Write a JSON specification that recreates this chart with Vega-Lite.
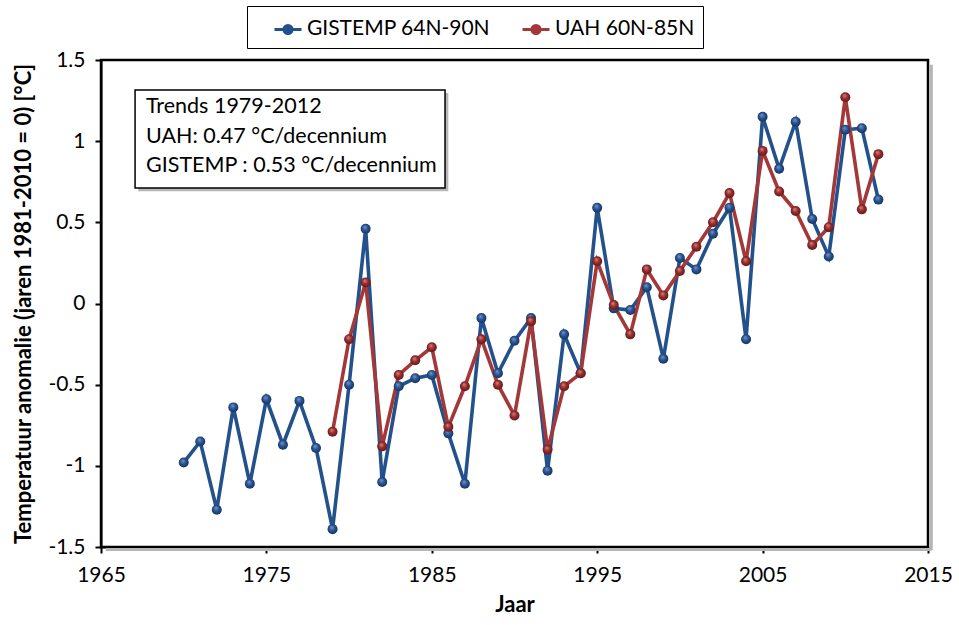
{
  "$schema": "https://vega.github.io/schema/vega-lite/v6.json",
  "width": 827,
  "height": 487,
  "autosize": {"type": "none"},
  "padding": {"left": 101, "top": 60, "right": 31, "bottom": 78},
  "background": "white",
  "config": {
    "font": "Lato",
    "view": {"stroke": "black", "strokeWidth": 2.5},
    "axis": {
      "domainColor": "black", "domainWidth": 2,
      "tickColor": "black", "tickWidth": 2, "tickSize": 6,
      "labelFont": "Lato", "labelFontSize": 21, "labelColor": "black",
      "titleFont": "Lato", "titleFontSize": 22, "titleFontWeight": "bold", "titleColor": "black",
      "grid": false
    }
  },
  "datasets": {
    "temps": [
      {"year": 1970, "series": "GISTEMP 64N-90N", "value": -0.98},
      {"year": 1971, "series": "GISTEMP 64N-90N", "value": -0.85},
      {"year": 1972, "series": "GISTEMP 64N-90N", "value": -1.27},
      {"year": 1973, "series": "GISTEMP 64N-90N", "value": -0.64},
      {"year": 1974, "series": "GISTEMP 64N-90N", "value": -1.11},
      {"year": 1975, "series": "GISTEMP 64N-90N", "value": -0.59},
      {"year": 1976, "series": "GISTEMP 64N-90N", "value": -0.87},
      {"year": 1977, "series": "GISTEMP 64N-90N", "value": -0.60},
      {"year": 1978, "series": "GISTEMP 64N-90N", "value": -0.89},
      {"year": 1979, "series": "GISTEMP 64N-90N", "value": -1.39},
      {"year": 1980, "series": "GISTEMP 64N-90N", "value": -0.50},
      {"year": 1981, "series": "GISTEMP 64N-90N", "value": 0.46},
      {"year": 1982, "series": "GISTEMP 64N-90N", "value": -1.10},
      {"year": 1983, "series": "GISTEMP 64N-90N", "value": -0.51},
      {"year": 1984, "series": "GISTEMP 64N-90N", "value": -0.46},
      {"year": 1985, "series": "GISTEMP 64N-90N", "value": -0.44},
      {"year": 1986, "series": "GISTEMP 64N-90N", "value": -0.80},
      {"year": 1987, "series": "GISTEMP 64N-90N", "value": -1.11},
      {"year": 1988, "series": "GISTEMP 64N-90N", "value": -0.09},
      {"year": 1989, "series": "GISTEMP 64N-90N", "value": -0.43},
      {"year": 1990, "series": "GISTEMP 64N-90N", "value": -0.23},
      {"year": 1991, "series": "GISTEMP 64N-90N", "value": -0.09},
      {"year": 1992, "series": "GISTEMP 64N-90N", "value": -1.03},
      {"year": 1993, "series": "GISTEMP 64N-90N", "value": -0.19},
      {"year": 1994, "series": "GISTEMP 64N-90N", "value": -0.43},
      {"year": 1995, "series": "GISTEMP 64N-90N", "value": 0.59},
      {"year": 1996, "series": "GISTEMP 64N-90N", "value": -0.03},
      {"year": 1997, "series": "GISTEMP 64N-90N", "value": -0.04},
      {"year": 1998, "series": "GISTEMP 64N-90N", "value": 0.10},
      {"year": 1999, "series": "GISTEMP 64N-90N", "value": -0.34},
      {"year": 2000, "series": "GISTEMP 64N-90N", "value": 0.28},
      {"year": 2001, "series": "GISTEMP 64N-90N", "value": 0.21},
      {"year": 2002, "series": "GISTEMP 64N-90N", "value": 0.43},
      {"year": 2003, "series": "GISTEMP 64N-90N", "value": 0.59},
      {"year": 2004, "series": "GISTEMP 64N-90N", "value": -0.22},
      {"year": 2005, "series": "GISTEMP 64N-90N", "value": 1.15},
      {"year": 2006, "series": "GISTEMP 64N-90N", "value": 0.83},
      {"year": 2007, "series": "GISTEMP 64N-90N", "value": 1.12},
      {"year": 2008, "series": "GISTEMP 64N-90N", "value": 0.52},
      {"year": 2009, "series": "GISTEMP 64N-90N", "value": 0.29},
      {"year": 2010, "series": "GISTEMP 64N-90N", "value": 1.07},
      {"year": 2011, "series": "GISTEMP 64N-90N", "value": 1.08},
      {"year": 2012, "series": "GISTEMP 64N-90N", "value": 0.64},
      {"year": 1979, "series": "UAH 60N-85N", "value": -0.79},
      {"year": 1980, "series": "UAH 60N-85N", "value": -0.22},
      {"year": 1981, "series": "UAH 60N-85N", "value": 0.13},
      {"year": 1982, "series": "UAH 60N-85N", "value": -0.88},
      {"year": 1983, "series": "UAH 60N-85N", "value": -0.44},
      {"year": 1984, "series": "UAH 60N-85N", "value": -0.35},
      {"year": 1985, "series": "UAH 60N-85N", "value": -0.27},
      {"year": 1986, "series": "UAH 60N-85N", "value": -0.76},
      {"year": 1987, "series": "UAH 60N-85N", "value": -0.51},
      {"year": 1988, "series": "UAH 60N-85N", "value": -0.22},
      {"year": 1989, "series": "UAH 60N-85N", "value": -0.50},
      {"year": 1990, "series": "UAH 60N-85N", "value": -0.69},
      {"year": 1991, "series": "UAH 60N-85N", "value": -0.11},
      {"year": 1992, "series": "UAH 60N-85N", "value": -0.90},
      {"year": 1993, "series": "UAH 60N-85N", "value": -0.51},
      {"year": 1994, "series": "UAH 60N-85N", "value": -0.43},
      {"year": 1995, "series": "UAH 60N-85N", "value": 0.26},
      {"year": 1996, "series": "UAH 60N-85N", "value": -0.01},
      {"year": 1997, "series": "UAH 60N-85N", "value": -0.19},
      {"year": 1998, "series": "UAH 60N-85N", "value": 0.21},
      {"year": 1999, "series": "UAH 60N-85N", "value": 0.05},
      {"year": 2000, "series": "UAH 60N-85N", "value": 0.20},
      {"year": 2001, "series": "UAH 60N-85N", "value": 0.35},
      {"year": 2002, "series": "UAH 60N-85N", "value": 0.50},
      {"year": 2003, "series": "UAH 60N-85N", "value": 0.68},
      {"year": 2004, "series": "UAH 60N-85N", "value": 0.26},
      {"year": 2005, "series": "UAH 60N-85N", "value": 0.94},
      {"year": 2006, "series": "UAH 60N-85N", "value": 0.69},
      {"year": 2007, "series": "UAH 60N-85N", "value": 0.57},
      {"year": 2008, "series": "UAH 60N-85N", "value": 0.36},
      {"year": 2009, "series": "UAH 60N-85N", "value": 0.47},
      {"year": 2010, "series": "UAH 60N-85N", "value": 1.27},
      {"year": 2011, "series": "UAH 60N-85N", "value": 0.58},
      {"year": 2012, "series": "UAH 60N-85N", "value": 0.92}
    ],
    "trendbox": [{"label": "box"}]
  },
  "layer": [
    {
      "data": {"name": "trendbox"},
      "mark": {"type": "rule", "stroke": "#b5b5b5", "strokeWidth": 3},
      "encoding": {"x": {"datum": 2015.2}, "y": {"datum": 1.47}, "y2": {"datum": -1.52}}
    },
    {
      "data": {"name": "trendbox"},
      "mark": {"type": "rule", "stroke": "#b5b5b5", "strokeWidth": 3},
      "encoding": {"y": {"datum": -1.515}, "x": {"datum": 1965.3}, "x2": {"datum": 2015.2}}
    },
    {
      "data": {"name": "temps"},
      "mark": {"type": "line", "strokeWidth": 3.6},
      "encoding": {
        "x": {
          "field": "year", "type": "quantitative",
          "scale": {"domain": [1965, 2015], "nice": false, "zero": false},
          "axis": {"values": [1965, 1975, 1985, 1995, 2005, 2015], "format": "d", "title": "Jaar", "labelPadding": 11, "titlePadding": 9, "labelFlush": false}
        },
        "y": {
          "field": "value", "type": "quantitative",
          "scale": {"domain": [-1.5, 1.5], "nice": false},
          "axis": {"values": [-1.5, -1, -0.5, 0, 0.5, 1, 1.5], "labelExpr": "'' + datum.value", "title": "Temperatuur anomalie (jaren 1981-2010 = 0) [°C]", "labelPadding": 10, "titlePadding": 12, "labelFlush": false}
        },
        "color": {
          "field": "series", "type": "nominal",
          "scale": {"domain": ["GISTEMP 64N-90N", "UAH 60N-85N"], "range": ["#23518c", "#a33838"]},
          "legend": {
            "title": null,
            "orient": "none", "legendX": 146, "legendY": -54,
            "direction": "horizontal",
            "strokeColor": "black", "padding": 8,
            "fillColor": "white",
            "labelFont": "Lato", "labelFontSize": 21, "labelColor": "black", "labelLimit": 400,
            "symbolType": "M-1,0L1,0M-0.3,0A0.3,0.3 0 1,0 0.3,0A0.3,0.3 0 1,0 -0.3,0Z",
            "symbolSize": 729, "symbolStrokeWidth": 3,
            "symbolOffset": 18,
            "columnPadding": 12, "labelOffset": 4,
            "encode": {"symbols": {"update": {"fill": {"scale": "color", "field": "value"}, "stroke": {"scale": "color", "field": "value"}}}}
          }
        }
      }
    },
    {
      "data": {"name": "temps"},
      "transform": [{"filter": "datum.series === 'GISTEMP 64N-90N'"}],
      "mark": {"type": "point", "shape": "circle", "filled": true, "size": 100, "opacity": 1,
        "fill": {"gradient": "radial", "x1": 0.4, "y1": 0.3, "r1": 0, "x2": 0.5, "y2": 0.5, "r2": 0.6,
          "stops": [{"offset": 0, "color": "#7a9bcc"}, {"offset": 0.45, "color": "#2a5596"}, {"offset": 1, "color": "#102a50"}]}},
      "encoding": {
        "x": {"field": "year", "type": "quantitative"},
        "y": {"field": "value", "type": "quantitative"}
      }
    },
    {
      "data": {"name": "temps"},
      "transform": [{"filter": "datum.series === 'UAH 60N-85N'"}],
      "mark": {"type": "point", "shape": "circle", "filled": true, "size": 100, "opacity": 1,
        "fill": {"gradient": "radial", "x1": 0.4, "y1": 0.3, "r1": 0, "x2": 0.5, "y2": 0.5, "r2": 0.6,
          "stops": [{"offset": 0, "color": "#d98a8a"}, {"offset": 0.45, "color": "#9a2e2e"}, {"offset": 1, "color": "#551313"}]}},
      "encoding": {
        "x": {"field": "year", "type": "quantitative"},
        "y": {"field": "value", "type": "quantitative"}
      }
    },
    {
      "data": {"name": "trendbox"},
      "mark": {"type": "rect", "fill": "#9a9a9a", "opacity": 0.7},
      "encoding": {"x": {"datum": 1967.25}, "x2": {"datum": 1986.0}, "y": {"datum": 1.296}, "y2": {"datum": 0.692}}
    },
    {
      "data": {"name": "trendbox"},
      "mark": {"type": "rect", "fill": "white", "stroke": "black", "strokeWidth": 1.5},
      "encoding": {"x": {"datum": 1967.06}, "x2": {"datum": 1985.8}, "y": {"datum": 1.315}, "y2": {"datum": 0.711}}
    },
    {
      "data": {"name": "trendbox"},
      "mark": {"type": "text", "align": "left", "baseline": "middle", "font": "Lato", "fontSize": 21.5, "lineHeight": 29.5, "color": "black",
        "text": ["Trends 1979-2012", "UAH: 0.47 °C/decennium", "GISTEMP : 0.53 °C/decennium"]},
      "encoding": {"x": {"datum": 1967.72}, "y": {"datum": 1.21}}
    }
  ]
}
